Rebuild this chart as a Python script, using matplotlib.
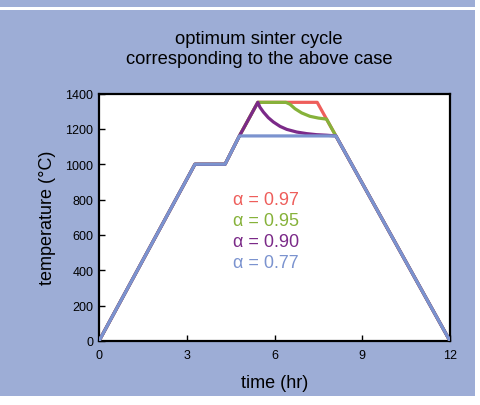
import matplotlib
matplotlib.use("Agg")
import matplotlib.pyplot as plt
from matplotlib.patches import Rectangle

plt.rcParams['font.family'] = ['Liberation Sans', 'DejaVu Sans']

# sinter cycles, time in hr, temperature in degC
time_077 = [0, 3.28, 4.31, 4.8, 8.1, 12]
temp_077 = [0, 1000, 1000, 1160, 1160, 0]

time_090 = [0, 3.28, 4.31, 4.8, 5.43, 5.50, 5.62, 5.79, 5.96, 6.19, 6.42, 6.76, 7.10, 7.44, 7.78, 8.1, 12]
temp_090 = [0, 1000, 1000, 1160, 1350, 1323, 1295, 1263, 1239, 1214, 1197, 1182, 1173, 1167, 1164, 1160, 0]

time_095 = [0, 3.28, 4.31, 4.8, 5.43, 6.39, 6.53, 6.70, 6.93, 7.21, 7.50, 7.78, 12]
temp_095 = [0, 1000, 1000, 1160, 1350, 1350, 1339, 1314, 1290, 1271, 1261, 1255, 0]

time_097 = [0, 3.28, 4.31, 4.8, 5.43, 7.46, 12]
temp_097 = [0, 1000, 1000, 1160, 1350, 1350, 0]

labels = ['\u03b1 = 0.97', '\u03b1 = 0.95', '\u03b1 = 0.90', '\u03b1 = 0.77']
label_temps = [800, 680, 560, 445]
colors = ['#EE5E5B', '#86B23A', '#7B2A88', '#7B93CF']

bg = '#9DADD6'
W, H = 480, 406
fig = plt.figure(figsize=(4.8, 4.06), dpi=100, facecolor='white')

# blue panel with thin white stripe near the top
fig.patches.append(Rectangle((0, 1 - 397 / H), 475 / W, 397 / H, transform=fig.transFigure,
                             facecolor=bg, edgecolor='none', zorder=0))
fig.patches.append(Rectangle((0, 1 - 10.5 / H), 1, 2.5 / H, transform=fig.transFigure,
                             facecolor='white', edgecolor='none', zorder=1))

ax = fig.add_axes([99 / W, 1 - 342 / H, 351 / W, 247.5 / H])
ax.set_zorder(5)
ax.set_facecolor('white')

series = [(time_097, temp_097), (time_095, temp_095), (time_090, temp_090), (time_077, temp_077)]
for i, (t, T) in enumerate(series):
    ax.plot(t, T, color=colors[i], lw=2.3, zorder=2 + i, solid_joinstyle='round')

for i, lab in enumerate(labels):
    ax.text(4.58, label_temps[i], lab, color=colors[i], fontsize=13, va='center', ha='left')

ax.set_xlim(0, 12)
ax.set_ylim(0, 1400)
ax.set_xticks([0, 3, 6, 9, 12])
ax.set_yticks(range(0, 1401, 200))
ax.tick_params(direction='in', length=4, width=1, labelsize=9, top=False, right=False)
ax.tick_params(axis='x', pad=6)
ax.tick_params(axis='y', pad=4)
for s in ax.spines.values():
    s.set_linewidth(1.6)
    s.set_color('black')

ax.set_xlabel('time (hr)', fontsize=13, labelpad=9)
ax.set_ylabel('temperature (\u00b0C)', fontsize=13, labelpad=7)

fig.text(259 / W, 1 - 39 / H, 'optimum sinter cycle', ha='center', va='center', fontsize=13.2)
fig.text(259 / W, 1 - 60 / H, 'corresponding to the above case', ha='center', va='center', fontsize=13.2)

fig.savefig('out.png', dpi=100, facecolor='white')
